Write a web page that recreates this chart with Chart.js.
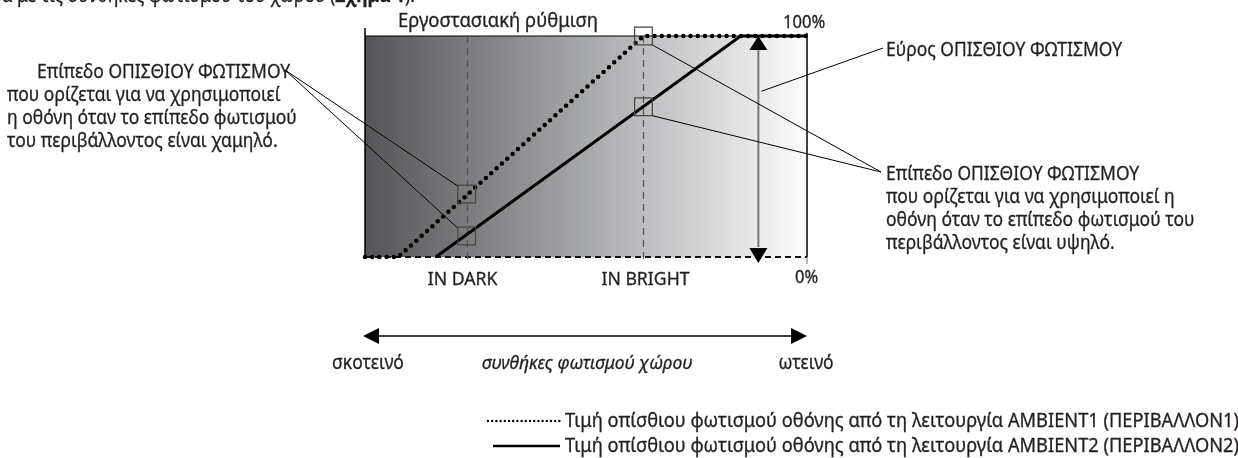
<!DOCTYPE html>
<html>
<head>
<meta charset="utf-8">
<script src="https://cdn.jsdelivr.net/npm/chart.js@4.4.1/dist/chart.umd.min.js"></script>
<style>
  html, body { margin: 0; padding: 0; background: #fff; }
  canvas { display: block; }
</style>
</head>
<body>
<canvas id="chart" width="1238" height="458"></canvas>
<script>
// Values (x = ambient light 0..100, y = backlight 0..100 %)
const markLabels = ['IN DARK', 'IN BRIGHT'];
const markX = [23, 63];
const ambient1X = [0, 7.5, 63, 100];
const ambient1Y = [0, 0, 100, 100];
const ambient2X = [16, 85, 100];
const ambient2Y = [0, 100, 100];
const boxX = [23, 23, 63, 63];
const boxY = [28.5, 9.5, 100, 68];
const yTickLabels = ['0%', '100%'];
const yTickValues = [0, 100];
const rangeX = 89;
const seriesNames = [
  'Τιμή οπίσθιου φωτισμού οθόνης από τη λειτουργία AMBIENT1 (ΠΕΡΙΒΑΛΛΟΝ1)',
  'Τιμή οπίσθιου φωτισμού οθόνης από τη λειτουργία AMBIENT2 (ΠΕΡΙΒΑΛΛΟΝ2)'
];

const FONT = "'Noto Sans', 'Open Sans', sans-serif";
const INK = '#231f20';

function toPoints(xs, ys) {
  return xs.map((x, i) => ({ x: x, y: ys[i] }));
}

// text helper, slightly condensed to look like the original typeface
function txt(ctx, s, x, y, align, size, style, squeeze) {
  ctx.font = (style || '') + ' ' + size + 'px ' + FONT;
  ctx.textAlign = align || 'left';
  ctx.textBaseline = 'alphabetic';
  ctx.fillStyle = INK;
  ctx.strokeStyle = INK;
  ctx.lineWidth = 0.3;
  const w = ctx.measureText(s).width * (squeeze || 0.92);
  ctx.fillText(s, x, y, w);
  ctx.strokeText(s, x, y, w);
  return w;
}

function line(ctx, x1, y1, x2, y2, color, width, dash, cap) {
  ctx.save();
  ctx.beginPath();
  ctx.strokeStyle = color;
  ctx.lineWidth = width;
  ctx.lineCap = cap || 'butt';
  ctx.setLineDash(dash || []);
  ctx.moveTo(x1, y1);
  ctx.lineTo(x2, y2);
  ctx.stroke();
  ctx.restore();
}

function arrowHead(ctx, x, y, dx, dy, len, half) {
  // apex at (x,y), pointing along (dx,dy)
  ctx.beginPath();
  ctx.moveTo(x, y);
  ctx.lineTo(x - dx * len - dy * half, y - dy * len + dx * half);
  ctx.lineTo(x - dx * len + dy * half, y - dy * len - dx * half);
  ctx.closePath();
  ctx.fillStyle = '#000';
  ctx.fill();
}

const backdrop = {
  id: 'backdrop',
  beforeDatasetsDraw(chart) {
    const ctx = chart.ctx;
    const a = chart.chartArea;
    const xs = chart.scales.x;

    // grey to white gradient
    const g = ctx.createLinearGradient(a.left, 0, a.right, 0);
    g.addColorStop(0, '#555557');
    g.addColorStop(0.5, '#a7a8aa');
    g.addColorStop(1, '#fcfcfc');
    ctx.fillStyle = g;
    ctx.fillRect(a.left, a.top, a.right - a.left, a.bottom - a.top);

    // frame
    line(ctx, a.left, a.top, a.right, a.top, '#000', 1.2);
    line(ctx, a.left, a.top - 8, a.left, a.bottom, '#000', 1.5);
    line(ctx, a.right, a.top - 3, a.right, a.bottom, '#000', 1.5);
    line(ctx, a.right, a.bottom, a.right, a.bottom + 7, '#888', 1.2);
    line(ctx, a.left, a.bottom, a.right, a.bottom, '#111', 2, [6, 4]);

    // IN DARK / IN BRIGHT guides
    markX.forEach(v => {
      const px = Math.round(xs.getPixelForValue(v)) + 0.5;
      line(ctx, px, a.top, px, a.bottom + 6, '#555', 1.2, [7, 5]);
    });
  },
  afterDatasetsDraw(chart) {
    const ctx = chart.ctx;
    const a = chart.chartArea;
    const xs = chart.scales.x;
    const ys = chart.scales.y;
    const half = 9;

    // backlight range arrow
    const ax = xs.getPixelForValue(rangeX);
    line(ctx, ax, ys.getPixelForValue(100) + 10, ax, ys.getPixelForValue(0) - 10, '#777', 2);
    arrowHead(ctx, ax, ys.getPixelForValue(100), 0, -1, 14, 9);
    arrowHead(ctx, ax, ys.getPixelForValue(0) + 6, 0, 1, 15, 9);

    // leader lines from the notes to the boxes
    const bx = boxX.map(v => xs.getPixelForValue(v));
    const by = boxY.map(v => ys.getPixelForValue(v));
    line(ctx, 285, 70, bx[0] - half, by[0] - half + 1, '#000', 1);
    line(ctx, 285, 70, bx[1] - half, by[1] - half + 1, '#000', 1);
    line(ctx, 881, 172, bx[2] + half, by[2] + half, '#000', 1);
    line(ctx, 881, 172, bx[3] + half, by[3] + half, '#000', 1);
    line(ctx, 883, 48, ax + 3, ys.getPixelForValue(75), '#000', 1);

    // texts around the plot
    txt(ctx, 'Εργοστασιακή ρύθμιση', 498, 27, 'center', 19, '', 0.97);
    yTickValues.forEach((v, i) => {
      txt(ctx, yTickLabels[i], a.right - (v === 0 ? 12 : 24), ys.getPixelForValue(v) + (v === 0 ? 26 : -8), 'left', 18);
    });
    markX.forEach((v, i) => {
      txt(ctx, markLabels[i], xs.getPixelForValue(v) - 4 + i * 6, 285, 'center', 18, '', 0.98);
    });

    const left = [
      'Επίπεδο ΟΠΙΣΘΙΟΥ ΦΩΤΙΣΜΟΥ',
      'που ορίζεται για να χρησιμοποιεί',
      'η οθόνη όταν το επίπεδο φωτισμού',
      'του περιβάλλοντος είναι χαμηλό.'
    ];
    left.forEach((s, i) => txt(ctx, s, i === 0 ? 37 : 7, 78 + i * 23, 'left', 19));

    txt(ctx, 'Εύρος ΟΠΙΣΘΙΟΥ ΦΩΤΙΣΜΟΥ', 886, 56, 'left', 19);
    const right = [
      'Επίπεδο ΟΠΙΣΘΙΟΥ ΦΩΤΙΣΜΟΥ',
      'που ορίζεται για να χρησιμοποιεί η',
      'οθόνη όταν το επίπεδο φωτισμού του',
      'περιβάλλοντος είναι υψηλό.'
    ];
    right.forEach((s, i) => txt(ctx, s, 886, 180 + i * 23, 'left', 19));

    // cut-off sentence at the very top
    const tail = txt(ctx, ').', 415, 2, 'right', 19);
    const bw = txt(ctx, 'Σχήμα 1', 415 - tail, 2, 'right', 19, 'bold');
    txt(ctx, 'ανάλογα με τις συνθήκες φωτισμού του χώρου (', 415 - tail - bw, 2, 'right', 19);

    // ambient light axis
    const y0 = 336;
    line(ctx, 378, y0, 792, y0, '#000', 1.5);
    arrowHead(ctx, 363, y0, -1, 0, 16, 8);
    arrowHead(ctx, 807, y0, 1, 0, 16, 8);
    txt(ctx, 'σκοτεινό', 368, 369, 'center', 19);
    txt(ctx, 'συνθήκες φωτισμού χώρου', 587, 369, 'center', 19, 'italic');
    txt(ctx, 'ωτεινό', 806, 369, 'center', 19);

    // legend
    const ly = [421, 446];
    line(ctx, 488, ly[0], 560, ly[0], '#000', 2.4, [0, 4.2], 'round');
    line(ctx, 493, ly[1], 560, ly[1], '#000', 2.6);
    seriesNames.forEach((s, i) => txt(ctx, s, 565, ly[i] + 6, 'left', 19, '', 0.96));
  }
};

new Chart(document.getElementById('chart'), {
  type: 'line',
  data: {
    datasets: [
      {
        label: 'boxes',
        data: toPoints(boxX, boxY),
        showLine: false,
        pointStyle: 'rect',
        pointRadius: 12.5,
        pointBorderColor: '#444',
        pointBorderWidth: 1.2,
        pointBackgroundColor: 'rgba(0,0,0,0)',
        clip: false
      },
      {
        label: seriesNames[0],
        data: toPoints(ambient1X, ambient1Y),
        borderColor: '#000',
        borderWidth: 4.5,
        borderDash: [0, 7.2],
        borderCapStyle: 'round',
        pointRadius: 0,
        tension: 0,
        clip: false
      },
      {
        label: seriesNames[1],
        data: toPoints(ambient2X, ambient2Y),
        borderColor: '#000',
        borderWidth: 3,
        pointRadius: 0,
        tension: 0,
        clip: false
      }
    ]
  },
  options: {
    responsive: false,
    animation: false,
    layout: { padding: { left: 365, right: 431, top: 36, bottom: 201 } },
    scales: {
      x: { type: 'linear', min: 0, max: 100, display: false },
      y: { type: 'linear', min: 0, max: 100, display: false }
    },
    plugins: {
      legend: { display: false },
      tooltip: { enabled: false }
    }
  },
  plugins: [backdrop]
});
</script>
</body>
</html>
